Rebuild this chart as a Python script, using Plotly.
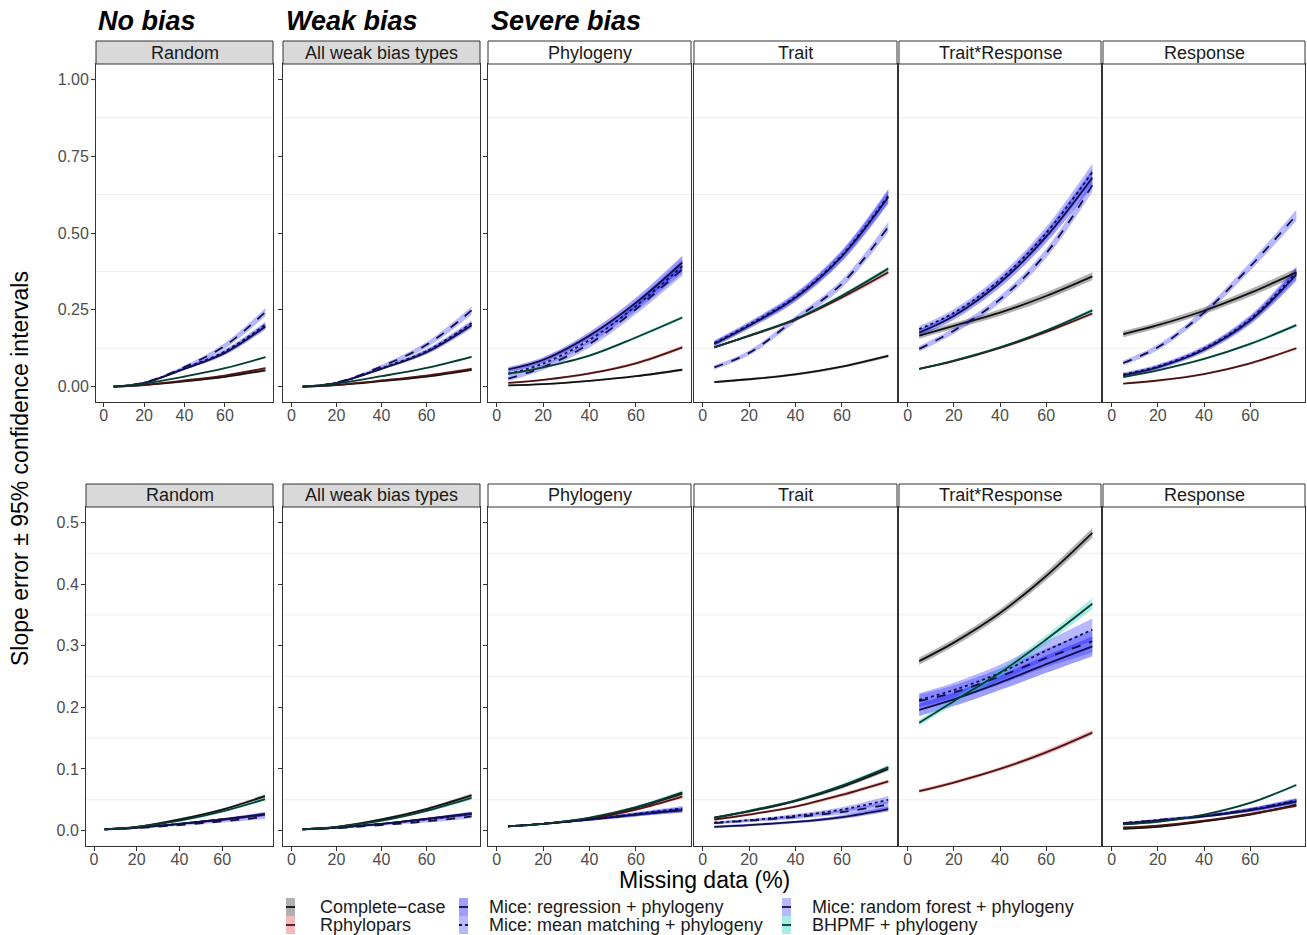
import plotly.graph_objects as go

# ---------------- data ----------------
X_PCT = [5, 20, 40, 60, 80]
X_TICKS = [0, 20, 40, 60]
METHOD_KEYS = ["cc", "rp", "reg", "mm", "rf", "bh"]
METHOD_NAMES = {
    "cc": "Complete\u2212case",
    "rp": "Rphylopars",
    "reg": "Mice: regression + phylogeny",
    "mm": "Mice: mean matching + phylogeny",
    "rf": "Mice: random forest + phylogeny",
    "bh": "BHPMF + phylogeny",
}
PANEL_TITLES = ["Random", "All weak bias types", "Phylogeny", "Trait", "Trait*Response", "Response"]
GROUP_TITLES = ["No bias", "Weak bias", "Severe bias"]
TOP_YTICKS = [0, 0.25, 0.5, 0.75, 1.0]
TOP_YTICKTEXT = ["0.00", "0.25", "0.50", "0.75", "1.00"]
BOT_YTICKS = [0, 0.1, 0.2, 0.3, 0.4, 0.5]
BOT_YTICKTEXT = ["0.0", "0.1", "0.2", "0.3", "0.4", "0.5"]

# mean curves, top row
MEAN_TOP_RANDOM = {"cc": [0.000, 0.005, 0.017, 0.032, 0.053], "rp": [0.000, 0.006, 0.020, 0.036, 0.060],
                   "reg": [0.000, 0.012, 0.058, 0.110, 0.196], "mm": [0.000, 0.012, 0.060, 0.115, 0.202],
                   "rf": [0.000, 0.013, 0.064, 0.133, 0.243], "bh": [0.000, 0.010, 0.033, 0.060, 0.096]}
MEAN_TOP_WEAK = {"cc": [0.000, 0.005, 0.018, 0.033, 0.055], "rp": [0.000, 0.006, 0.020, 0.036, 0.058],
                 "reg": [0.000, 0.012, 0.058, 0.112, 0.200], "mm": [0.000, 0.012, 0.060, 0.116, 0.206],
                 "rf": [0.000, 0.013, 0.066, 0.136, 0.248], "bh": [0.000, 0.010, 0.034, 0.061, 0.097]}
MEAN_TOP_PHYLO = {"cc": [0.004, 0.008, 0.019, 0.034, 0.055], "rp": [0.012, 0.022, 0.043, 0.076, 0.128],
                  "reg": [0.056, 0.087, 0.166, 0.273, 0.404], "mm": [0.042, 0.075, 0.152, 0.262, 0.392],
                  "rf": [0.026, 0.063, 0.139, 0.252, 0.382], "bh": [0.042, 0.063, 0.101, 0.160, 0.225]}
MEAN_TOP_TRAIT = {"cc": [0.015, 0.024, 0.040, 0.065, 0.100], "rp": [0.128, 0.165, 0.218, 0.290, 0.372],
                  "reg": [0.139, 0.198, 0.289, 0.424, 0.617], "mm": [0.142, 0.202, 0.293, 0.428, 0.622],
                  "rf": [0.063, 0.110, 0.220, 0.335, 0.520], "bh": [0.128, 0.166, 0.220, 0.296, 0.384]}
MEAN_TOP_TXR = {"cc": [0.166, 0.198, 0.241, 0.295, 0.359], "rp": [0.058, 0.083, 0.126, 0.178, 0.238],
                "reg": [0.176, 0.230, 0.338, 0.488, 0.680], "mm": [0.187, 0.240, 0.348, 0.500, 0.698],
                "rf": [0.123, 0.182, 0.284, 0.434, 0.655], "bh": [0.058, 0.085, 0.128, 0.182, 0.248]}
MEAN_TOP_RESP = {"cc": [0.171, 0.200, 0.247, 0.305, 0.372], "rp": [0.010, 0.020, 0.041, 0.076, 0.125],
                 "reg": [0.037, 0.063, 0.120, 0.215, 0.365], "mm": [0.040, 0.066, 0.124, 0.220, 0.372],
                 "rf": [0.077, 0.128, 0.241, 0.391, 0.558], "bh": [0.031, 0.053, 0.090, 0.139, 0.200]}

# mean curves, bottom row
MEAN_BOT_RANDOM = {"cc": [0.002, 0.006, 0.018, 0.034, 0.056], "rp": [0.002, 0.005, 0.011, 0.018, 0.026],
                   "reg": [0.002, 0.005, 0.011, 0.018, 0.027], "mm": [0.002, 0.005, 0.011, 0.018, 0.026],
                   "rf": [0.002, 0.004, 0.009, 0.015, 0.022], "bh": [0.002, 0.006, 0.016, 0.031, 0.051]}
MEAN_BOT_WEAK = {"cc": [0.002, 0.006, 0.018, 0.035, 0.057], "rp": [0.002, 0.005, 0.011, 0.019, 0.027],
                 "reg": [0.002, 0.005, 0.011, 0.019, 0.028], "mm": [0.002, 0.005, 0.011, 0.018, 0.027],
                 "rf": [0.002, 0.004, 0.009, 0.015, 0.023], "bh": [0.002, 0.006, 0.016, 0.032, 0.053]}
MEAN_BOT_PHYLO = {"cc": [0.007, 0.011, 0.020, 0.037, 0.060], "rp": [0.007, 0.011, 0.019, 0.034, 0.055],
                  "reg": [0.007, 0.011, 0.018, 0.026, 0.033], "mm": [0.007, 0.011, 0.018, 0.027, 0.036],
                  "rf": [0.007, 0.011, 0.018, 0.026, 0.034], "bh": [0.007, 0.011, 0.021, 0.038, 0.062]}
MEAN_BOT_TRAIT = {"cc": [0.021, 0.031, 0.048, 0.071, 0.100], "rp": [0.018, 0.026, 0.039, 0.058, 0.080],
                  "reg": [0.006, 0.009, 0.014, 0.022, 0.035], "mm": [0.013, 0.017, 0.024, 0.034, 0.050],
                  "rf": [0.012, 0.016, 0.022, 0.030, 0.042], "bh": [0.021, 0.032, 0.049, 0.073, 0.103]}
MEAN_BOT_TXR = {"cc": [0.275, 0.305, 0.353, 0.413, 0.483], "rp": [0.064, 0.078, 0.100, 0.127, 0.159],
                "reg": [0.196, 0.213, 0.240, 0.270, 0.299], "mm": [0.212, 0.228, 0.256, 0.292, 0.326],
                "rf": [0.210, 0.224, 0.250, 0.280, 0.307], "bh": [0.175, 0.210, 0.256, 0.310, 0.368]}
MEAN_BOT_RESP = {"cc": [0.003, 0.006, 0.015, 0.026, 0.042], "rp": [0.005, 0.008, 0.016, 0.027, 0.040],
                 "reg": [0.011, 0.016, 0.023, 0.033, 0.047], "mm": [0.012, 0.017, 0.024, 0.034, 0.049],
                 "rf": [0.012, 0.017, 0.024, 0.034, 0.048], "bh": [0.010, 0.014, 0.026, 0.045, 0.074]}

# 95% CI half-widths
HW_TOP_RANDOM = {"cc": [0, 0.001, 0.002, 0.003, 0.004], "rp": [0, 0.001, 0.002, 0.003, 0.004],
                 "reg": [0, 0.002, 0.004, 0.007, 0.010], "mm": [0, 0.002, 0.004, 0.007, 0.010],
                 "rf": [0, 0.002, 0.005, 0.009, 0.013], "bh": [0, 0.001, 0.002, 0.003, 0.004]}
HW_TOP_WEAK = {"cc": [0, 0.001, 0.002, 0.003, 0.004], "rp": [0, 0.001, 0.002, 0.003, 0.004],
               "reg": [0, 0.002, 0.004, 0.007, 0.010], "mm": [0, 0.002, 0.004, 0.007, 0.010],
               "rf": [0, 0.002, 0.005, 0.009, 0.013], "bh": [0, 0.001, 0.002, 0.003, 0.004]}
HW_TOP_PHYLO = {"cc": [0.003, 0.003, 0.003, 0.003, 0.004], "rp": [0.003, 0.003, 0.004, 0.005, 0.006],
                "reg": [0.008, 0.009, 0.012, 0.016, 0.022], "mm": [0.008, 0.009, 0.012, 0.016, 0.022],
                "rf": [0.008, 0.009, 0.012, 0.016, 0.020], "bh": [0.003, 0.003, 0.004, 0.005, 0.006]}
HW_TOP_TRAIT = {"cc": [0.003, 0.003, 0.004, 0.004, 0.005], "rp": [0.004, 0.004, 0.005, 0.006, 0.008],
                "reg": [0.009, 0.010, 0.013, 0.017, 0.022], "mm": [0.009, 0.010, 0.013, 0.017, 0.022],
                "rf": [0.007, 0.008, 0.010, 0.013, 0.017], "bh": [0.004, 0.004, 0.005, 0.006, 0.008]}
HW_TOP_TXR = {"cc": [0.010, 0.010, 0.011, 0.012, 0.013], "rp": [0.003, 0.003, 0.004, 0.005, 0.006],
              "reg": [0.010, 0.012, 0.015, 0.020, 0.028], "mm": [0.010, 0.012, 0.015, 0.020, 0.028],
              "rf": [0.009, 0.010, 0.012, 0.015, 0.020], "bh": [0.003, 0.003, 0.004, 0.005, 0.007]}
HW_TOP_RESP = {"cc": [0.010, 0.010, 0.011, 0.012, 0.013], "rp": [0.002, 0.002, 0.003, 0.004, 0.005],
               "reg": [0.006, 0.007, 0.009, 0.013, 0.020], "mm": [0.006, 0.007, 0.009, 0.013, 0.020],
               "rf": [0.008, 0.009, 0.011, 0.014, 0.018], "bh": [0.003, 0.003, 0.004, 0.005, 0.006]}

HW_BOT_RANDOM = {"cc": [0.001, 0.001, 0.002, 0.002, 0.003], "rp": [0.001, 0.001, 0.001, 0.002, 0.002],
                 "reg": [0.001, 0.001, 0.001, 0.002, 0.003], "mm": [0.001, 0.001, 0.001, 0.002, 0.003],
                 "rf": [0.001, 0.001, 0.001, 0.002, 0.003], "bh": [0.001, 0.001, 0.002, 0.002, 0.003]}
HW_BOT_WEAK = {"cc": [0.001, 0.001, 0.002, 0.002, 0.003], "rp": [0.001, 0.001, 0.001, 0.002, 0.002],
               "reg": [0.001, 0.001, 0.001, 0.002, 0.003], "mm": [0.001, 0.001, 0.001, 0.002, 0.003],
               "rf": [0.001, 0.001, 0.001, 0.002, 0.003], "bh": [0.001, 0.001, 0.002, 0.002, 0.003]}
HW_BOT_PHYLO = {"cc": [0.001, 0.001, 0.001, 0.002, 0.003], "rp": [0.001, 0.001, 0.001, 0.002, 0.003],
                "reg": [0.001, 0.001, 0.002, 0.003, 0.004], "mm": [0.001, 0.001, 0.002, 0.003, 0.004],
                "rf": [0.001, 0.001, 0.002, 0.003, 0.004], "bh": [0.001, 0.001, 0.001, 0.002, 0.003]}
HW_BOT_TRAIT = {"cc": [0.002, 0.002, 0.002, 0.003, 0.003], "rp": [0.002, 0.002, 0.002, 0.003, 0.003],
                "reg": [0.002, 0.002, 0.002, 0.003, 0.004], "mm": [0.002, 0.002, 0.003, 0.004, 0.006],
                "rf": [0.002, 0.002, 0.003, 0.004, 0.006], "bh": [0.002, 0.002, 0.002, 0.003, 0.003]}
HW_BOT_TXR = {"cc": [0.006, 0.006, 0.006, 0.007, 0.008], "rp": [0.003, 0.003, 0.003, 0.004, 0.004],
              "reg": [0.010, 0.011, 0.012, 0.014, 0.016], "mm": [0.011, 0.012, 0.013, 0.015, 0.018],
              "rf": [0.011, 0.012, 0.013, 0.015, 0.018], "bh": [0.005, 0.005, 0.006, 0.007, 0.009]}
HW_BOT_RESP = {"cc": [0.001, 0.001, 0.001, 0.002, 0.002], "rp": [0.001, 0.001, 0.001, 0.002, 0.002],
               "reg": [0.002, 0.002, 0.002, 0.003, 0.004], "mm": [0.002, 0.002, 0.002, 0.003, 0.004],
               "rf": [0.002, 0.002, 0.002, 0.003, 0.004], "bh": [0.001, 0.001, 0.001, 0.002, 0.002]}

ROWS = [
    ([MEAN_TOP_RANDOM, MEAN_TOP_WEAK, MEAN_TOP_PHYLO, MEAN_TOP_TRAIT, MEAN_TOP_TXR, MEAN_TOP_RESP],
     [HW_TOP_RANDOM, HW_TOP_WEAK, HW_TOP_PHYLO, HW_TOP_TRAIT, HW_TOP_TXR, HW_TOP_RESP]),
    ([MEAN_BOT_RANDOM, MEAN_BOT_WEAK, MEAN_BOT_PHYLO, MEAN_BOT_TRAIT, MEAN_BOT_TXR, MEAN_BOT_RESP],
     [HW_BOT_RANDOM, HW_BOT_WEAK, HW_BOT_PHYLO, HW_BOT_TRAIT, HW_BOT_TXR, HW_BOT_RESP]),
]

# ---------------- style ----------------
FONT = "Liberation Sans, Arial, sans-serif"
FILL = {"cc": "rgba(60,60,60,0.40)", "rp": "rgba(235,80,80,0.40)", "reg": "rgba(0,0,255,0.38)",
        "mm": "rgba(20,20,255,0.30)", "rf": "rgba(20,20,255,0.30)", "bh": "rgba(30,210,190,0.40)"}
LINE = {"cc": "#111111", "rp": "#4a1414", "reg": "#10104a", "mm": "#10104a", "rf": "#10104a", "bh": "#0b3a30"}
DASH = {"cc": "solid", "rp": "solid", "reg": "solid", "mm": "dot", "rf": "dash", "bh": "solid"}
LEGEND_COLS = [["cc", "rp"], ["reg", "mm"], ["rf", "bh"]]
LEG_KEY_X = [286, 459, 782]
LEG_TEXT_X = [318, 487, 810]
LEG_ROW_Y = [907, 925]

W, H = 1307, 935
TOP_X = [(96, 273), (283, 480), (488, 691), (694, 897), (899, 1101), (1103, 1305)]
BOT_X = [(86, 273)] + TOP_X[1:]
ROW_X = [TOP_X, BOT_X]
ROW_Y = [(64, 402), (507, 846)]
STRIP_H = 23
YRANGES = [[-0.05, 1.05], [-0.025, 0.525]]
YTICKS = [(TOP_YTICKS, TOP_YTICKTEXT), (BOT_YTICKS, BOT_YTICKTEXT)]
GRID_MINOR = [[0.125, 0.375, 0.625, 0.875], [0.05, 0.15, 0.25, 0.35, 0.45]]


def pxx(x):
    return x / W


def pyy(y):
    return 1 - y / H


fig = go.Figure()
layout = {}
shapes = []
annotations = []

for r, (means_row, hw_row) in enumerate(ROWS):
    for c in range(6):
        k = r * 6 + c + 1
        xa = "x" if k == 1 else f"x{k}"
        ya = "y" if k == 1 else f"y{k}"
        means = means_row[c]
        hws = hw_row[c]
        for m in METHOD_KEYS:
            lo = [a - b for a, b in zip(means[m], hws[m])]
            hi = [a + b for a, b in zip(means[m], hws[m])]
            fig.add_trace(go.Scatter(x=X_PCT, y=lo, mode="lines", line=dict(width=0, shape="spline"),
                                     hoverinfo="skip", showlegend=False, xaxis=xa, yaxis=ya))
            fig.add_trace(go.Scatter(x=X_PCT, y=hi, mode="lines", line=dict(width=0, shape="spline"),
                                     fill="tonexty", fillcolor=FILL[m], hoverinfo="skip",
                                     showlegend=False, xaxis=xa, yaxis=ya))
        for m in METHOD_KEYS:
            fig.add_trace(go.Scatter(x=X_PCT, y=means[m], mode="lines", name=METHOD_NAMES[m],
                                     legendgroup=m, showlegend=False,
                                     line=dict(color=LINE[m], width=1.8, dash=DASH[m], shape="spline"),
                                     xaxis=xa, yaxis=ya))

        x0, x1 = ROW_X[r][c]
        y0, y1 = ROW_Y[r]
        xkey = "xaxis" if k == 1 else f"xaxis{k}"
        ykey = "yaxis" if k == 1 else f"yaxis{k}"
        layout[xkey] = dict(domain=[pxx(x0), pxx(x1)], range=[-3.75, 83.75], anchor=ya,
                            tickvals=X_TICKS, ticktext=[str(v) for v in X_TICKS],
                            ticks="outside", ticklen=4, tickcolor="#333333", tickwidth=1,
                            ticklabelstandoff=-5,
                            showline=True, mirror=True, linecolor="#333333", linewidth=1,
                            showgrid=False, zeroline=False, automargin=False,
                            tickfont=dict(family=FONT, size=16, color="#4D4D4D"))
        tv, tt = YTICKS[r]
        layout[ykey] = dict(domain=[pyy(y1), pyy(y0)], range=YRANGES[r], anchor=xa,
                            tickvals=tv, ticktext=tt, showticklabels=(c == 0),
                            ticks="outside" if c < 3 else "", ticklen=4, tickcolor="#333333", tickwidth=1,
                            ticklabelstandoff=-1,
                            showline=True, mirror=True, linecolor="#333333", linewidth=1,
                            showgrid=False, zeroline=False, automargin=False,
                            tickfont=dict(family=FONT, size=16, color="#4D4D4D"))
        for g in GRID_MINOR[r]:
            shapes.append(dict(type="line", xref=f"{xa} domain", yref=ya, x0=0, x1=1, y0=g, y1=g,
                               line=dict(color="#EDEDED", width=1), layer="below"))
        # facet strip
        shapes.append(dict(type="rect", xref="paper", yref="paper",
                           x0=pxx(x0), x1=pxx(x1), y0=pyy(y0), y1=pyy(y0 - STRIP_H),
                           fillcolor="#D9D9D9" if c < 2 else "white",
                           line=dict(color="#333333", width=1), layer="above"))
        annotations.append(dict(text=PANEL_TITLES[c], xref="paper", yref="paper",
                                x=pxx((x0 + x1) / 2), y=pyy(y0 - STRIP_H / 2),
                                xanchor="center", yanchor="middle", showarrow=False,
                                font=dict(family=FONT, size=18, color="#1A1A1A")))

# group titles
for title, xpos in zip(GROUP_TITLES, [96, 284, 489]):
    annotations.append(dict(text=f"<b><i>{title}</i></b>", xref="paper", yref="paper",
                            x=pxx(xpos), y=pyy(21), xanchor="left", yanchor="middle",
                            showarrow=False, font=dict(family=FONT, size=27, color="black")))

annotations.append(dict(text="Slope error \u00b1 95% confidence intervals", xref="paper", yref="paper",
                        x=pxx(20), y=pyy(469), textangle=-90, xanchor="center", yanchor="middle",
                        showarrow=False, font=dict(family=FONT, size=23, color="black")))
annotations.append(dict(text="Missing data (%)", xref="paper", yref="paper",
                        x=pxx(704), y=pyy(880), xanchor="center", yanchor="middle",
                        showarrow=False, font=dict(family=FONT, size=23, color="black")))

# legend (drawn as keys + text, laid out in three columns like the reference)
for col, keys in enumerate(LEGEND_COLS):
    for row, m in enumerate(keys):
        yc = LEG_ROW_Y[row]
        kx = LEG_KEY_X[col]
        shapes.append(dict(type="rect", xref="paper", yref="paper",
                           x0=pxx(kx), x1=pxx(kx + 9), y0=pyy(yc + 9), y1=pyy(yc - 9),
                           fillcolor=FILL[m], line=dict(width=0)))
        shapes.append(dict(type="line", xref="paper", yref="paper",
                           x0=pxx(kx), x1=pxx(kx + 9), y0=pyy(yc), y1=pyy(yc),
                           line=dict(color=LINE[m], width=1.8, dash=DASH[m])))
        annotations.append(dict(text=METHOD_NAMES[m], xref="paper", yref="paper",
                                x=pxx(LEG_TEXT_X[col]), y=pyy(yc), xanchor="left", yanchor="middle",
                                showarrow=False, font=dict(family=FONT, size=18, color="#1A1A1A")))

fig.update_layout(width=W, height=H, margin=dict(l=0, r=0, t=0, b=0, autoexpand=False),
                  plot_bgcolor="white", paper_bgcolor="white",
                  font=dict(family=FONT), shapes=shapes, annotations=annotations,
                  showlegend=False, **layout)

fig.write_html("out.html")
